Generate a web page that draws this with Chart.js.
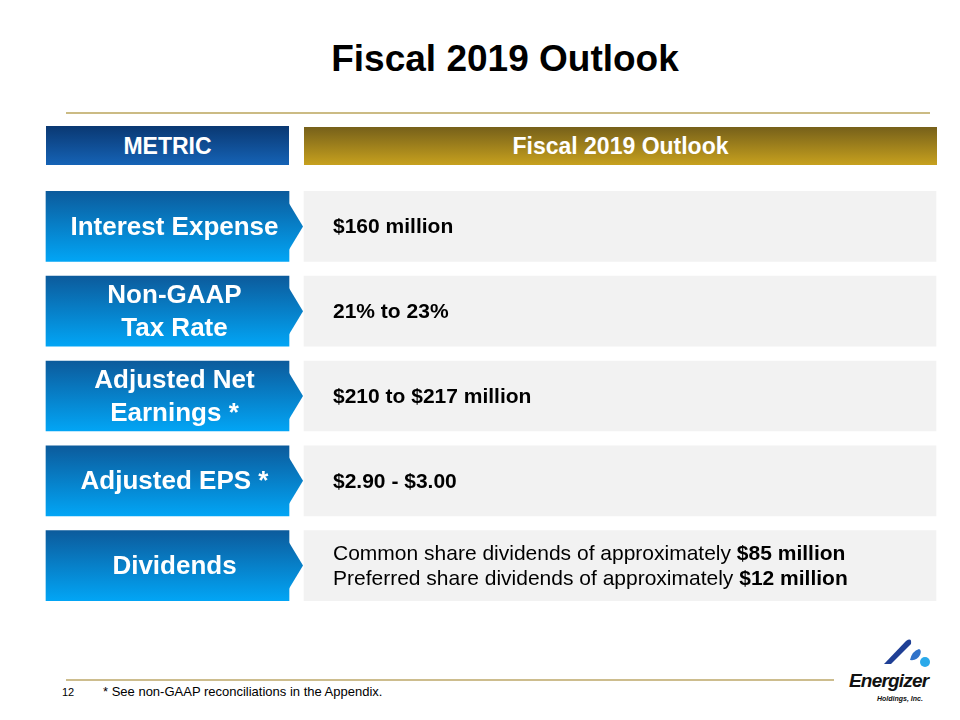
<!DOCTYPE html>
<html>
<head>
<meta charset="utf-8">
<script src="https://cdn.jsdelivr.net/npm/chart.js@4/dist/chart.umd.min.js"></script>
<style>
  body { margin: 0; background: #fff; font-family: "Liberation Sans", Arial, sans-serif; }
  #page { position: relative; width: 960px; height: 720px; overflow: hidden; }
  .abs { position: absolute; }
  #title { left: 50px; top: 40px; width: 910px; text-align: center; font-size: 37px; line-height: 37px; font-weight: bold; color: #000; }
  #rule1 { left: 66px; top: 112px; width: 864px; height: 2px; background: #cbbb84; }
  #hdrMetric { left: 46px; top: 126px; width: 243px; height: 39px; line-height: 40px; text-align: center; color: #fff; font-weight: bold; font-size: 23px;
    background: linear-gradient(to bottom, #0a3872, #1563b6); }
  #hdrOutlook { left: 304px; top: 127px; width: 633px; height: 38px; line-height: 39px; text-align: center; color: #fff; font-weight: bold; font-size: 23px;
    background: linear-gradient(to bottom, #76601a, #c7a11e); }
  #rule2 { left: 66px; top: 679px; width: 768px; height: 2px; background: #cdbd8e; }
  #pageNo { left: 62px; top: 686px; font-size: 11px; color: #000; }
  #foot { left: 103px; top: 684px; font-size: 13px; color: #000; }
  #logoText { left: 849px; top: 670px; font-size: 19px; font-weight: bold; font-style: italic; letter-spacing: -0.8px; color: #111; }
  #logoSub { left: 877px; top: 695px; font-size: 7px; font-weight: bold; font-style: italic; color: #111; }
  #table { left: 0; top: 184px; }
</style>
</head>
<body>
<div id="page">
  <div id="title" class="abs">Fiscal 2019 Outlook</div>
  <div id="rule1" class="abs"></div>
  <div id="hdrMetric" class="abs">METRIC</div>
  <div id="hdrOutlook" class="abs">Fiscal 2019 Outlook</div>
  <canvas id="table" class="abs" width="960" height="424" style="width:960px;height:424px"></canvas>
  <div id="rule2" class="abs"></div>
  <div id="pageNo" class="abs">12</div>
  <div id="foot" class="abs">* See non-GAAP reconciliations in the Appendix.</div>
  <svg class="abs" style="left:880px;top:636px" width="60" height="36">
    <path d="M4 28 L26 5 Q32 1 31 8 L11 28 Z" fill="#1f3f95"/>
    <path d="M30 24 Q32 15 39 13 Q42 14 40 19 Q37 25 30 24 Z" fill="#2f72c9"/>
    <circle cx="45" cy="26" r="5" fill="#2aa9ea"/>
  </svg>
  <div id="logoText" class="abs">Energizer</div>
  <div id="logoSub" class="abs">Holdings, Inc.</div>
</div>
<script>
// 表の中身 (行ごと)
const metrics = [
    ["Interest Expense"],
    ["Non-GAAP", "Tax Rate"],
    ["Adjusted Net", "Earnings *"],
    ["Adjusted EPS *"],
    ["Dividends"],
];
// 各行: 行の配列, 行は [文字, bold] の配列
const outlook = [
    [[["$160 million", true]]],
    [[["21% to 23%", true]]],
    [[["$210 to $217 million", true]]],
    [[["$2.90 - $3.00", true]]],
    [[["Common share dividends of approximately ", false], ["$85 million", true]],
     [["Preferred share dividends of approximately ", false], ["$12 million", true]]],
];

// column span (x scale は 0-960 の page 座標)
const metricCol = [46, 289];
const outlookCol = [304, 936];
const rowThickness = 70;
const fontFamily = '"Liberation Sans", Arial, sans-serif';

function metricFill(context) {
    const chart = context.chart;
    const yScale = chart.scales.y;
    if (!yScale || context.dataIndex === undefined) {
	return "#0a80d0";
    }
    const c = yScale.getPixelForValue(context.dataIndex);
    if (!isFinite(c)) {
	return "#0a80d0";
    }
    const g = chart.ctx.createLinearGradient(0, c - rowThickness / 2, 0, c + rowThickness / 2);
    g.addColorStop(0, "#0c5b9c");
    g.addColorStop(1, "#02a5f5");
    return g;
}

// 矢印の先と文字
const tablePlugin = {
    id: "tableText",
    afterDatasetsDraw(chart) {
	const ctx = chart.ctx;
	const left = chart.getDatasetMeta(0).data;
	const right = chart.getDatasetMeta(1).data;
	ctx.save();
	left.forEach(function (bar, i) {
	    const p = bar.getProps(["x", "y", "base"], true);
	    ctx.fillStyle = bar.options.backgroundColor;
	    ctx.beginPath();
	    ctx.moveTo(p.x - 0.5, p.y - 24);
	    ctx.lineTo(p.x + 14, p.y);
	    ctx.lineTo(p.x - 0.5, p.y + 24);
	    ctx.closePath();
	    ctx.fill();

	    ctx.fillStyle = "#fff";
	    ctx.font = "bold 26px " + fontFamily;
	    ctx.textAlign = "center";
	    ctx.textBaseline = "middle";
	    const lines = metrics[i];
	    const cx = (p.base + p.x + 14) / 2;
	    lines.forEach(function (s, k) {
		ctx.fillText(s, cx, p.y + 1 + (k - (lines.length - 1) / 2) * 33);
	    });
	});
	right.forEach(function (bar, i) {
	    const p = bar.getProps(["x", "y", "base"], true);
	    const lines = outlook[i];
	    ctx.fillStyle = "#000";
	    ctx.textAlign = "left";
	    ctx.textBaseline = "middle";
	    lines.forEach(function (segs, k) {
		var x = p.base + 29;
		const y = p.y + 1 + (k - (lines.length - 1) / 2) * 25;
		segs.forEach(function (seg) {
		    ctx.font = (seg[1] ? "bold " : "") + "21px " + fontFamily;
		    ctx.fillText(seg[0], x, y);
		    x += ctx.measureText(seg[0]).width;
		});
	    });
	});
	ctx.restore();
    }
};

const ctx = document.getElementById("table").getContext("2d");
window.myChart = new Chart(ctx, {
    type: "bar",
    data: {
	labels: metrics.map(m => m.join(" ")),
	datasets: [
	    { label: "METRIC",
	      data: metrics.map(() => metricCol),
	      backgroundColor: metricFill,
	      barThickness: rowThickness,
	      grouped: false },
	    { label: "Fiscal 2019 Outlook",
	      data: outlook.map(() => outlookCol),
	      backgroundColor: "#f2f2f2",
	      barThickness: rowThickness,
	      grouped: false },
	]
    },
    options: {
	indexAxis: "y",
	responsive: false,
	animation: false,
	layout: { padding: 0 },
	plugins: {
	    legend: { display: false },
	    tooltip: { enabled: false },
	},
	scales: {
	    x: { type: "linear", min: 0, max: 960, display: false },
	    y: { display: false },
	}
    },
    plugins: [tablePlugin]
});
</script>
</body>
</html>
